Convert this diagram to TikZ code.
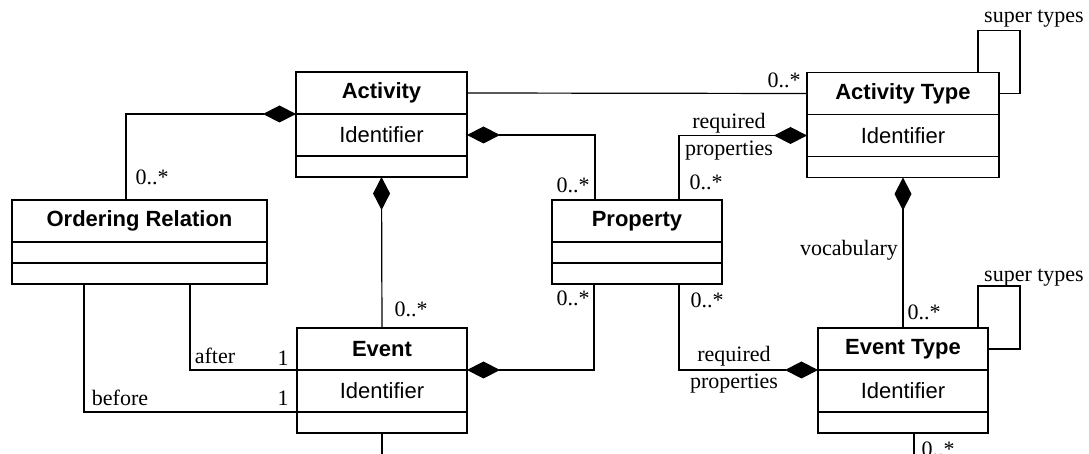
\documentclass[tikz,border=0pt]{standalone}
\usepackage{fontspec}
\setmainfont{Liberation Serif}
\setsansfont{Liberation Sans}
\usetikzlibrary{positioning,arrows.meta}

\begin{document}
\begin{tikzpicture}
        [x=0.5pt,y=-0.5pt,line width=0.6pt,
         cname/.style={draw,outer sep=0pt,minimum height=21pt,font=\fontsize{11}{13}\selectfont\sffamily\bfseries},
         cattr/.style={draw,outer sep=0pt,minimum height=21pt,font=\fontsize{11}{13}\selectfont\sffamily},
         cops/.style={draw,outer sep=0pt,minimum height=10.5pt},
         lbl/.style={inner sep=0pt,align=center,font=\fontsize{11}{13.5}\selectfont},
         comp/.style={-{Diamond[length=16.5pt,width=8.5pt]}}]
        \useasboundingbox (0,0) rectangle (1089,454);

        % classes: name, attributes, operations
        \node[cname,minimum width=85.5pt] (act) at (381.5,93) {Activity};
        \node[cattr,minimum width=85.5pt,below=0pt of act] (actattr) {Identifier};
        \node[cops,minimum width=85.5pt,below=0pt of actattr] (actops) {};

        \node[cname,minimum width=96pt] (at) at (903,93.5) {Activity Type};
        \node[cattr,minimum width=96pt,below=0pt of at] (atattr) {Identifier};
        \node[cops,minimum width=96pt,below=0pt of atattr] (atops) {};

        \node[cname,minimum width=127.5pt] (ord) at (139.5,221) {Ordering Relation};
        \node[cops,minimum width=127.5pt,below=0pt of ord] (ordattr) {};
        \node[cops,minimum width=127.5pt,below=0pt of ordattr] (ordops) {};

        \node[cname,minimum width=85pt] (prop) at (637,221) {Property};
        \node[cops,minimum width=85pt,below=0pt of prop] (propattr) {};
        \node[cops,minimum width=85pt,below=0pt of propattr] (propops) {};

        \node[cname,minimum width=85pt] (ev) at (382,349) {Event};
        \node[cattr,minimum width=85pt,below=0pt of ev] (evattr) {Identifier};
        \node[cops,minimum width=85pt,below=0pt of evattr] (evops) {};

        \node[cname,minimum width=85pt] (et) at (903,349) {Event Type};
        \node[cattr,minimum width=85pt,below=0pt of et] (etattr) {Identifier};
        \node[cops,minimum width=85pt,below=0pt of etattr] (etops) {};

        \coordinate (evtail) at (382,470);
        \coordinate (ettail) at (914,470);

        % associations
        \draw[comp] ([xshift=57pt]ord.north west) |- (act.south west);
        \draw[comp] ([xshift=-21pt]prop.north) |- (actattr.east);
        \draw[comp] ([xshift=21pt]prop.north) |- (atattr.west);
        \draw[comp] ([xshift=-21.5pt]propops.south) |- (ev.south east);
        \draw[comp] ([xshift=21pt]propops.south) |- (et.south west);
        \draw[comp] (ev.north) -- (actops.south);
        \draw[comp] (et.north) -- (atops.south);
        \draw (act.east) -- (at.west);
        \draw ([xshift=89pt]ordops.south west) |- (ev.south west);
        \draw ([xshift=36pt]ordops.south west) |- (evattr.south west);
        \draw (evops.south) -- (evtail);
        \draw ([xshift=5.5pt]etops.south) -- (ettail);

        % self associations
        \draw ([xshift=-10.5pt]at.north east) -- ++(0,-42) -| ([xshift=10.5pt]at.east) -- (at.east);
        \draw ([xshift=-5pt]et.north east) -- ++(0,-42) -| ([xshift=16pt]et.east) -- (et.east);

        % roles and multiplicities
        \path node[lbl] (ordmul) at (152,177) {0..*}
              node[lbl] (atmul) at (784,80) {0..*}
              node[lbl] (propmula) at (573,185) {0..*}
              node[lbl] (propmulb) at (706,182) {0..*}
              node[lbl] (reqat) at (729,137) {required\\properties}
              node[lbl] (evmul) at (411,309) {0..*}
              node[lbl] (vocab) at (849,250) {vocabulary}
              node[lbl] (etmul) at (924,312) {0..*}
              node[lbl] (propmulc) at (573,298) {0..*}
              node[lbl] (propmuld) at (707,300) {0..*}
              node[lbl] (reqet) at (734,370) {required\\properties}
              node[lbl] (after) at (215,356) {after}
              node[lbl] (aftermul) at (283,358) {1}
              node[lbl] (before) at (120,398) {before}
              node[lbl] (beforemul) at (283,398) {1}
              node[lbl] (atsuper) at (1034,19) {super types}
              node[lbl] (etsuper) at (1034,278) {super types}
              node[lbl] (etmulb) at (938,449) {0..*};
\end{tikzpicture}
\end{document}
